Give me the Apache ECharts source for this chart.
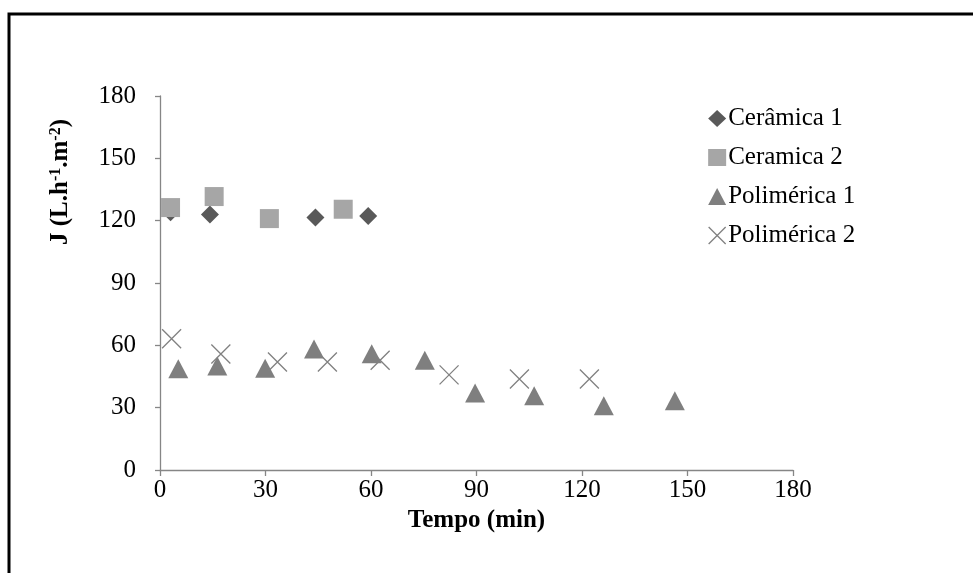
<!DOCTYPE html>
<html>
<head>
<meta charset="utf-8">
<script src="https://cdn.jsdelivr.net/npm/echarts@6/dist/echarts.min.js"></script>
<style>html,body{margin:0;padding:0;background:#fff}#c{width:973px;height:573px}</style>
</head>
<body>
<div id="c"></div>
<script>
var seriesNames = ['Cerâmica 1', 'Ceramica 2', 'Polimérica 1', 'Polimérica 2'];
var ceramica1 = [[3, 124], [14.2, 123], [44.2, 121.5], [59.2, 122.2]];
var ceramica2 = [[3, 126.3], [15.4, 131.6], [31.1, 121], [52.1, 125.5]];
var polimerica1 = [[5.2, 48.7], [16.3, 50], [29.9, 49], [43.8, 58.2], [60.2, 56], [75.3, 52.8], [89.6, 37], [106.4, 35.7], [126.2, 30.9], [146.4, 33.3]];
var polimerica2 = [[3.3, 63.2], [17.3, 55.8], [33.4, 52], [47.6, 52], [62.6, 52.8], [82.2, 45.8], [102.2, 43.8], [122.1, 43.8]];
var xTicks = [0, 30, 60, 90, 120, 150, 180];
var yTicks = [0, 30, 60, 90, 120, 150, 180];

var FONT = 'Liberation Serif';
var crossPath = 'path://M0,0L10,10M10,0L0,10';
var axisColor = '#868686';

var chart = echarts.init(document.getElementById('c'));
chart.setOption({
  animation: false,
  backgroundColor: '#fff',
  textStyle: { fontFamily: FONT },
  grid: { left: 160, right: 180, top: 96, bottom: 103, containLabel: false },
  xAxis: {
    type: 'value', min: xTicks[0], max: xTicks[xTicks.length - 1], interval: 30,
    name: 'Tempo (min)', nameLocation: 'middle', nameGap: 36,
    nameTextStyle: { fontFamily: FONT, fontSize: 25, fontWeight: 'bold', color: '#000' },
    axisLine: { lineStyle: { color: axisColor, width: 1.3 } },
    axisTick: { show: true, length: 6, lineStyle: { color: axisColor, width: 1.3 } },
    axisLabel: { fontFamily: FONT, fontSize: 25, color: '#000', margin: 8 },
    splitLine: { show: false }
  },
  yAxis: {
    type: 'value', min: yTicks[0], max: yTicks[yTicks.length - 1], interval: 30,
    axisLine: { show: true, lineStyle: { color: axisColor, width: 1.3 } },
    axisTick: { show: true, length: 5, lineStyle: { color: axisColor, width: 1.3 } },
    axisLabel: { fontFamily: FONT, fontSize: 25, color: '#000', margin: 24 },
    splitLine: { show: false }
  },
  legend: {
    orient: 'vertical', left: 703, top: 101, itemGap: 14, itemWidth: 18, itemHeight: 17,
    textStyle: { fontFamily: FONT, fontSize: 25, color: '#000', padding: [0, 0, 0, -3] },
    data: [
      { name: seriesNames[0], icon: 'diamond' },
      { name: seriesNames[1], icon: 'rect' },
      { name: seriesNames[2], icon: 'triangle' },
      { name: seriesNames[3], icon: crossPath, itemStyle: { color: 'transparent', borderColor: '#808080', borderWidth: 1.3 } }
    ]
  },
  graphic: [
    { type: 'rect', shape: { x: 9, y: 14, width: 1100, height: 700 }, style: { fill: 'none', stroke: '#000', lineWidth: 3 }, silent: true, z: 100 },
    { type: 'text', x: 61, y: 182, rotation: Math.PI / 2, z: 100,
      style: {
        text: '{b|J (L.h}{s|-1}{b|.m}{s|-2}{b|)}',
        align: 'center', verticalAlign: 'middle',
        rich: {
          b: { fontFamily: FONT, fontSize: 25, fontWeight: 'bold', fill: '#000' },
          s: { fontFamily: FONT, fontSize: 16, fontWeight: 'bold', fill: '#000', verticalAlign: 'top', padding: [0, 0, 10, 0] }
        }
      }
    }
  ],
  series: [
    { name: seriesNames[0], type: 'scatter', data: ceramica1, symbol: 'diamond', symbolSize: 18, itemStyle: { color: '#595959', opacity: 1 }, z: 2 },
    { name: seriesNames[1], type: 'scatter', data: ceramica2, symbol: 'rect', symbolSize: 19, itemStyle: { color: '#A6A6A6', opacity: 1 }, z: 3 },
    { name: seriesNames[2], type: 'scatter', data: polimerica1, symbol: 'triangle', symbolSize: [20, 19], itemStyle: { color: '#7F7F7F', opacity: 1 }, z: 2 },
    { name: seriesNames[3], type: 'scatter', data: polimerica2, symbol: crossPath, symbolSize: 19, itemStyle: { color: 'transparent', borderColor: '#808080', borderWidth: 1.3, opacity: 1 }, z: 3 }
  ]
});
</script>
</body>
</html>
